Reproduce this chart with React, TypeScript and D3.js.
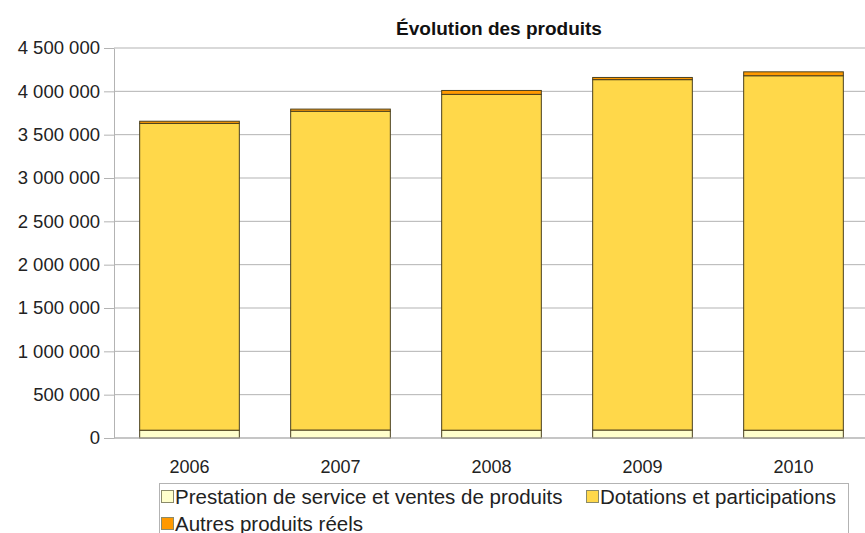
import React, { useEffect, useRef } from 'react';
import * as d3 from 'd3';

const years = ['2006', '2007', '2008', '2009', '2010'];
const prestation = [90000, 92000, 90000, 92000, 90000];
const dotations = [3540000, 3678000, 3875000, 4043000, 4090000];
const autres = [25000, 25000, 45000, 25000, 45000];
const seriesNames = ['Prestation de service et ventes de produits', 'Dotations et participations', 'Autres produits réels'];
const seriesColors = ['#ffffcc', '#ffd84a', '#ff9900'];
const yTicks = [0, 500000, 1000000, 1500000, 2000000, 2500000, 3000000, 3500000, 4000000, 4500000];

const App: React.FC = () => {
  const svgRef = useRef<SVGSVGElement | null>(null);

  useEffect(() => {
    if (!svgRef.current) return;
    const svg = d3.select(svgRef.current);
    svg.selectAll('*').remove();

    const width = 865;
    const height = 533;
    const margin = { top: 48, right: -4, bottom: 95, left: 114 };
    const innerW = width - margin.left - margin.right;
    const innerH = height - margin.top - margin.bottom;
    const font = 'Liberation Sans, Arial, sans-serif';

    svg.append('rect').attr('width', width).attr('height', height).attr('fill', '#fff');

    // title
    svg.append('text')
      .attr('x', 499)
      .attr('y', 35)
      .attr('text-anchor', 'middle')
      .attr('font-family', font)
      .attr('font-weight', 'bold')
      .attr('font-size', 19)
      .attr('fill', '#111')
      .text('Évolution des produits');

    const g = svg.append('g').attr('transform', `translate(${margin.left},${margin.top})`);

    const x = d3.scaleBand().domain(years).range([0, innerW]).paddingInner(0.34).paddingOuter(0.17);
    const y = d3.scaleLinear().domain([0, 4500000]).range([innerH, 0]);

    // gridlines
    g.selectAll('.grid')
      .data(yTicks)
      .enter()
      .append('line')
      .attr('x1', 0)
      .attr('x2', innerW)
      .attr('y1', d => y(d))
      .attr('y2', d => y(d))
      .attr('stroke', '#b3b3b3')
      .attr('stroke-width', 1);

    const fmt = (v: number) => d3.format(',')(v).replace(/,/g, ' ');

    const yAxis = g.append('g')
      .call(d3.axisLeft(y).tickValues(yTicks).tickFormat(d => fmt(d as number)).tickSize(10).tickSizeOuter(0).tickPadding(4));
    yAxis.select('.domain').attr('stroke', '#b3b3b3');
    yAxis.selectAll('.tick line').attr('stroke', '#b3b3b3');
    yAxis.selectAll('.tick text').attr('font-family', font).attr('font-size', 18.5).attr('fill', '#222');

    // stacked bars
    const table = years.map((yr, i) => ({ year: yr, s0: prestation[i], s1: dotations[i], s2: autres[i] }));
    const stack = d3.stack<any>().keys(['s0', 's1', 's2']);
    const layers = stack(table);

    layers.forEach((layer, li) => {
      g.selectAll(`.bar${li}`)
        .data(layer)
        .enter()
        .append('rect')
        .attr('x', d => x(d.data.year) as number)
        .attr('y', d => y(d[1]))
        .attr('width', x.bandwidth())
        .attr('height', d => y(d[0]) - y(d[1]))
        .attr('fill', seriesColors[li])
        .attr('stroke', '#4a4020')
        .attr('stroke-width', 1);
    });

    // x axis line
    g.append('line')
      .attr('x1', 0).attr('x2', innerW)
      .attr('y1', innerH).attr('y2', innerH)
      .attr('stroke', '#b3b3b3');

    g.selectAll('.xlab')
      .data(years)
      .enter()
      .append('text')
      .attr('x', d => (x(d) as number) + x.bandwidth() / 2)
      .attr('y', innerH + 35)
      .attr('text-anchor', 'middle')
      .attr('font-family', font)
      .attr('font-size', 18)
      .attr('fill', '#222')
      .text(d => d);

    // legend
    const lg = svg.append('g');
    lg.append('rect')
      .attr('x', 159.5).attr('y', 483.5)
      .attr('width', 689).attr('height', 60)
      .attr('fill', '#fff').attr('stroke', '#b3b3b3');
    const legendPos = [
      { x: 161, y: 490 },
      { x: 586, y: 490 },
      { x: 161, y: 517 },
    ];
    seriesNames.forEach((name, i) => {
      const p = legendPos[i];
      lg.append('rect')
        .attr('x', p.x + 0.5).attr('y', p.y + 0.5)
        .attr('width', 12).attr('height', 12)
        .attr('fill', seriesColors[i])
        .attr('stroke', '#8a8a6a');
      lg.append('text')
        .attr('x', p.x + 14)
        .attr('y', p.y + 14)
        .attr('font-family', font)
        .attr('font-size', 20.5)
        .attr('fill', '#222')
        .text(name);
    });
  }, []);

  return (
    <svg
      ref={svgRef}
      width={865}
      height={533}
      style={{ position: 'absolute', left: 0, top: 0, display: 'block' }}
    />
  );
};

export default App;
